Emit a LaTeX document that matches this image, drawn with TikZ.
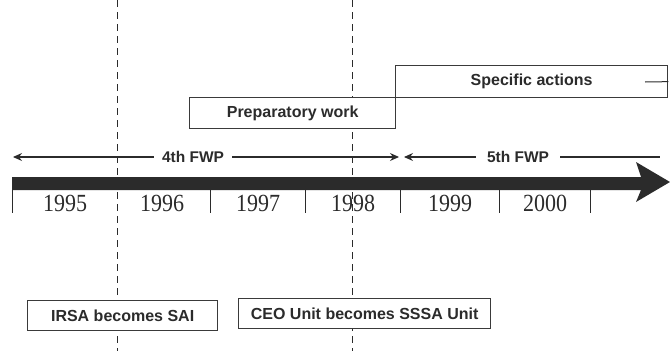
\documentclass[tikz,border=0pt]{standalone}
\usepackage{fontspec}
\setmainfont{Liberation Serif}
\newfontfamily\arialfont{Liberation Sans}
\usetikzlibrary{arrows.meta}
\definecolor{ink}{HTML}{2B2B2B}
\definecolor{boxline}{HTML}{3A3A3A}
\newcommand{\yr}[1]{\scalebox{1}[1.12]{#1}}
\tikzset{
  guide/.style={ink, line width=0.9pt, dash pattern=on 7pt off 5pt},
  evbox/.style={draw=boxline, line width=1.3pt, fill=white, inner sep=0pt, anchor=north west,
    font=\arialfont\bfseries\fontsize{16}{18}\selectfont, text=ink},
  fwpline/.style={ink, line width=1.1pt},
  fwplabel/.style={fill=white, inner xsep=8pt, inner ysep=1pt, font=\arialfont\bfseries\fontsize{15.5}{17}\selectfont, text=ink},
  tick/.style={ink, line width=1pt},
  year/.style={font=\fontsize{22}{24}\selectfont, text=ink},
  tipstyle/.style={-{Stealth[length=9pt,width=8pt,inset=3pt]}}
}
\begin{document}
\begin{tikzpicture}[x=1pt,y=-1pt]
\useasboundingbox (0,0) rectangle (670,351);
% guide lines
\draw[guide] (117,0) -- (117,351);
\draw[guide] (352,0) -- (352,351);
% boxes
\node[evbox, minimum width=206pt, minimum height=31pt] (prep) at (189,97) {Preparatory work};
\node[evbox, minimum width=272pt, minimum height=32pt] (spec) at (395,65) {Specific actions};
\coordinate (specstub) at (645,82);
\draw[ink, line width=1pt] (specstub) -- (spec.east);
\node[evbox, minimum width=190pt, minimum height=30pt] (irsa) at (27,300) {IRSA becomes SAI};
\node[evbox, minimum width=252pt, minimum height=30pt] (ceo) at (238,298) {CEO Unit becomes SSSA Unit};
% FWP arrows
\coordinate (a4l) at (13,157);
\coordinate (a4r) at (399,157);
\coordinate (a5l) at (404,157);
\coordinate (a5r) at (660,157);
\draw[fwpline,tipstyle] (193,157) -- (a4l);
\draw[fwpline,tipstyle] (193,157) -- (a4r);
\draw[fwpline,tipstyle] (518,157) -- (a5l);
\draw[fwpline] (518,157) -- (a5r);
\node[fwplabel] (t4) at (193,157) {4th FWP};
\node[fwplabel, inner xsep=11pt] (t5) at (518,157) {5th FWP};
% time bar
\fill[ink] (12,177) -- (641,177) -- (636,162) -- (670,182) -- (636,202) -- (641,190) -- (12,190) -- cycle;
% ticks
\foreach \x in {12,210,305,400,499,590}{
  \draw[tick] (\x,190) -- (\x,213);
}
% years
\node[year] (y1995) at (65,203) {\yr{1995}};
\node[year] (y1996) at (162,203) {\yr{1996}};
\node[year] (y1997) at (258,203) {\yr{1997}};
\node[year] (y1998) at (353,203) {\yr{1998}};
\node[year] (y1999) at (450,203) {\yr{1999}};
\node[year] (y2000) at (545,203) {\yr{2000}};
\end{tikzpicture}
\end{document}
